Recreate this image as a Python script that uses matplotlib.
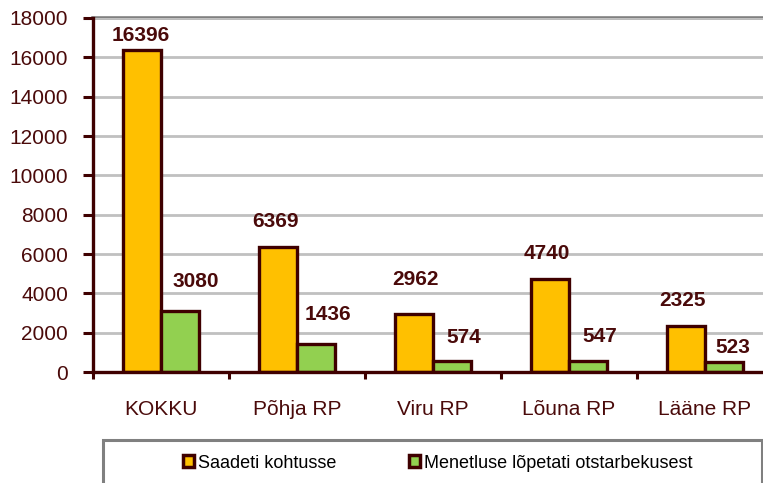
import matplotlib
matplotlib.use("Agg")
import matplotlib.pyplot as plt
from matplotlib.patches import Patch, Rectangle
import numpy as np

categories = ["KOKKU", "Põhja RP", "Viru RP", "Lõuna RP", "Lääne RP"]
saadeti = [16396, 6369, 2962, 4740, 2325]
lopetati = [3080, 1436, 574, 547, 523]
series_names = ["Saadeti kohtusse", "Menetluse lõpetati otstarbekusest"]

# label nudges in pixels (dx, height above bar top), as placed in the original
saadeti_nudge = [(-1, 14), (-2, 25), (2, 34), (-3, 25), (-3, 26)]
lopetati_nudge = [(16, 30), (12, 29), (12, 23), (12, 25), (9, 14)]

orange = "#FFC000"
green = "#92D050"
brown = "#3F0000"
textbrown = "#4A0A0A"

plt.rcParams["font.family"] = ["Liberation Sans", "DejaVu Sans"]

W, H = 763, 483
fig = plt.figure(figsize=(W / 100, H / 100), dpi=100)
ax = fig.add_axes([93 / W, 1 - 372 / H, 680 / W, 354 / H])

x = np.arange(len(categories))
bw = 0.28
b1 = ax.bar(x - bw / 2, saadeti, bw, color=orange, edgecolor=brown, linewidth=2.4, zorder=3)
b2 = ax.bar(x + bw / 2, lopetati, bw, color=green, edgecolor=brown, linewidth=2.4, zorder=3)

for bars, vals, nudge in [(b1, saadeti, saadeti_nudge), (b2, lopetati, lopetati_nudge)]:
    for bar, v, (dx, dy) in zip(bars, vals, nudge):
        ax.annotate(str(v), (bar.get_x() + bar.get_width() / 2, v),
                    xytext=(dx, dy), textcoords="offset pixels",
                    ha="center", va="center", fontsize=15, fontweight="bold",
                    color=textbrown, zorder=4)

ax.set_xlim(-0.5, len(categories) - 0.5)
ax.set_ylim(0, 18000)
ax.set_yticks(range(0, 18001, 2000))
ax.yaxis.grid(True, color="#C0C0C0", linewidth=2.0, zorder=0)
ax.axhline(18000, color="#808080", linewidth=2.6, zorder=1, clip_on=False)

ax.set_xticks(x)
ax.set_xticklabels(categories)
ax.set_xticks(np.arange(-0.5, len(categories), 1), minor=True)
ax.tick_params(axis="x", which="major", length=0, pad=20, labelsize=15, labelcolor=textbrown)
ax.tick_params(axis="x", which="minor", length=5, width=2.2, color=brown, direction="out")
ax.tick_params(axis="y", length=7, width=2.2, color=brown, pad=11, labelsize=15, labelcolor=textbrown)

for s in ["top", "right"]:
    ax.spines[s].set_visible(False)
for s in ["left", "bottom"]:
    ax.spines[s].set_color(brown)
    ax.spines[s].set_linewidth(2.4)
    ax.spines[s].set_zorder(5)

# legend box
fig.patches.append(Rectangle((103 / W, -10 / H), 659 / W, (483 - 440 + 10) / H,
                             transform=fig.transFigure, facecolor="none",
                             edgecolor="#808080", linewidth=2.2))
handles = [Patch(facecolor=orange, edgecolor=brown, linewidth=2.5),
           Patch(facecolor=green, edgecolor=brown, linewidth=2.5)]
fig.legend(handles, series_names, loc="center", bbox_to_anchor=(438 / W, 1 - 463 / H),
           ncol=2, frameon=False, fontsize=13, handlelength=0.6, handleheight=0.6,
           handletextpad=0.25, columnspacing=4.0, borderpad=0)

fig.savefig("out.png", dpi=100)
